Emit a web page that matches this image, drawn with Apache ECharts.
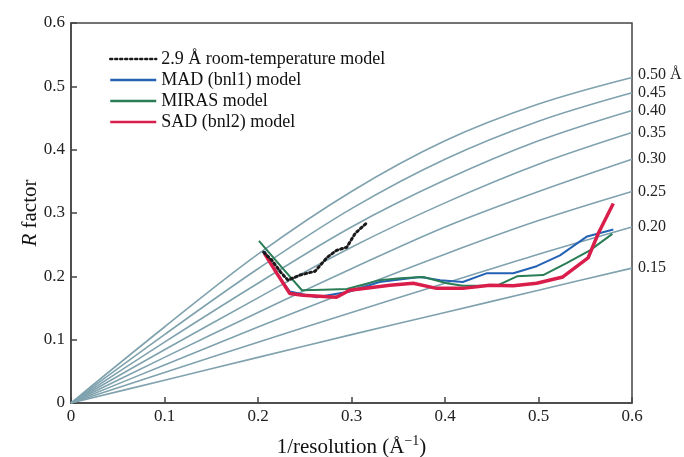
<!DOCTYPE html>
<html>
<head>
<meta charset="utf-8">
<script src="https://cdn.jsdelivr.net/npm/echarts@6/dist/echarts.min.js"></script>
<style>html,body{margin:0;padding:0;background:#fff}#c{width:684px;height:457px}</style>
</head>
<body>
<div id="c"></div>
<script>
// Luzzati reference curves (coordinate error in Å), sampled at 1/resolution
const luzX = [0, 0.1, 0.2, 0.3, 0.4, 0.5, 0.6];
const luzErrors = ['0.15', '0.20', '0.25', '0.30', '0.35', '0.40', '0.45', '0.50 Å'];
const luz15 = [0, 0.036, 0.072, 0.108, 0.143, 0.178, 0.213];
const luz20 = [0, 0.048, 0.096, 0.143, 0.189, 0.235, 0.278];
const luz25 = [0, 0.060, 0.120, 0.178, 0.235, 0.288, 0.334];
const luz30 = [0, 0.072, 0.143, 0.212, 0.278, 0.334, 0.385];
const luz35 = [0, 0.084, 0.166, 0.246, 0.316, 0.377, 0.427];
const luz40 = [0, 0.096, 0.189, 0.278, 0.352, 0.414, 0.462];
const luz45 = [0, 0.108, 0.212, 0.307, 0.385, 0.445, 0.490];
const luz50 = [0, 0.120, 0.235, 0.334, 0.414, 0.472, 0.514];

// Model R factors
const rtX = [0.206, 0.215, 0.224, 0.232, 0.245, 0.261, 0.274, 0.284, 0.295, 0.304, 0.316];
const rtR = [0.238, 0.225, 0.207, 0.194, 0.202, 0.208, 0.230, 0.241, 0.246, 0.268, 0.284];

const madX = [0.207, 0.220, 0.234, 0.263, 0.298, 0.330, 0.373, 0.395, 0.419, 0.445, 0.473, 0.498, 0.523, 0.552, 0.580];
const madR = [0.240, 0.205, 0.176, 0.167, 0.176, 0.191, 0.199, 0.194, 0.191, 0.205, 0.205, 0.216, 0.233, 0.263, 0.274];

const mirasX = [0.201, 0.225, 0.247, 0.270, 0.295, 0.330, 0.352, 0.377, 0.402, 0.419, 0.455, 0.477, 0.505, 0.530, 0.555, 0.579];
const mirasR = [0.256, 0.215, 0.178, 0.179, 0.180, 0.194, 0.197, 0.199, 0.189, 0.185, 0.185, 0.200, 0.202, 0.221, 0.241, 0.267];

const sadX = [0.207, 0.220, 0.234, 0.248, 0.284, 0.298, 0.341, 0.366, 0.391, 0.419, 0.448, 0.473, 0.498, 0.526, 0.553, 0.564, 0.580];
const sadR = [0.236, 0.205, 0.173, 0.170, 0.167, 0.178, 0.186, 0.189, 0.181, 0.181, 0.186, 0.185, 0.189, 0.199, 0.229, 0.268, 0.315];

const legendNames = ['2.9 Å room-temperature model', 'MAD (bnl1) model', 'MIRAS model', 'SAD (bnl2) model'];

const FONT = 'Liberation Serif';
const pair = (xs, ys) => xs.map((x, i) => [x, ys[i]]);
const luzSets = [luz15, luz20, luz25, luz30, luz35, luz40, luz45, luz50];

const series = [];
luzSets.forEach((vals, k) => {
  series.push({
    type: 'line', name: 'luz' + k, data: pair(luzX, vals), smooth: 0.35,
    symbol: 'none', silent: true, z: 1,
    lineStyle: { color: '#7fa2ae', width: 1.6 },
    endLabel: { show: true, formatter: luzErrors[k], distance: 6,
      fontFamily: FONT, fontSize: 16, color: '#222',
      offset: k === 7 ? [0, -3] : [0, 0] }
  });
});
series.push({ type: 'line', name: legendNames[1], data: pair(madX, madR), symbol: 'none', z: 3,
  lineStyle: { color: '#2462b4', width: 2 }, itemStyle: { color: '#2462b4' } });
series.push({ type: 'line', name: legendNames[2], data: pair(mirasX, mirasR), symbol: 'none', z: 3,
  lineStyle: { color: '#2a7d55', width: 2 }, itemStyle: { color: '#2a7d55' } });
series.push({ type: 'line', name: legendNames[3], data: pair(sadX, sadR), symbol: 'none', z: 4,
  lineStyle: { color: '#d91e4b', width: 3.5 }, itemStyle: { color: '#d91e4b' } });
series.push({ type: 'line', name: legendNames[0], data: pair(rtX, rtR), symbol: 'none', z: 5,
  lineStyle: { color: '#1a1a1a', width: 3, type: [2, 3], cap: 'round' }, itemStyle: { color: '#1a1a1a' } });

const chart = echarts.init(document.getElementById('c'), null, { renderer: 'canvas' });
chart.setOption({
  animation: false,
  backgroundColor: '#fff',
  grid: { left: 71, right: 52, top: 23, bottom: 54, show: true, borderColor: '#444', borderWidth: 1.5,
    outerBoundsMode: 'none', containLabel: false },
  legend: {
    data: legendNames, orient: 'vertical', left: 104, top: 45,
    itemWidth: 46, itemHeight: 12, itemGap: 3,
    itemStyle: { opacity: 0 },
    lineStyle: { width: 2.5 },
    textStyle: { fontFamily: FONT, fontSize: 18, color: '#111' }
  },
  xAxis: {
    type: 'value', min: 0, max: 0.6, interval: 0.1,
    axisLine: { lineStyle: { color: '#444', width: 1.5 } },
    axisTick: { inside: true, length: 6, lineStyle: { color: '#444', width: 1.5 } },
    splitLine: { show: false },
    axisLabel: { fontFamily: FONT, fontSize: 17, color: '#222', margin: 5 },
    name: '1/resolution (Å{sup|−1})', nameLocation: 'middle', nameGap: 31, nameMoveOverlap: false,
    nameTextStyle: { fontFamily: FONT, fontSize: 21, color: '#111',
      rich: { sup: { fontFamily: FONT, fontSize: 14, color: '#111', verticalAlign: 'top', padding: [0, 0, 12, 0] } } }
  },
  yAxis: {
    type: 'value', min: 0, max: 0.6, interval: 0.1,
    axisLine: { show: true, lineStyle: { color: '#444', width: 1.5 } },
    axisTick: { show: true, inside: true, length: 6, lineStyle: { color: '#444', width: 1.5 } },
    splitLine: { show: false },
    axisLabel: { fontFamily: FONT, fontSize: 17, color: '#222', margin: 6 },
    name: '{i|R} factor', nameLocation: 'middle', nameGap: 30, nameMoveOverlap: false,
    nameTextStyle: { fontFamily: FONT, fontSize: 21, color: '#111',
      rich: { i: { fontFamily: FONT, fontSize: 21, fontStyle: 'italic', color: '#111' } } }
  },
  series: series
});
</script>
</body>
</html>
